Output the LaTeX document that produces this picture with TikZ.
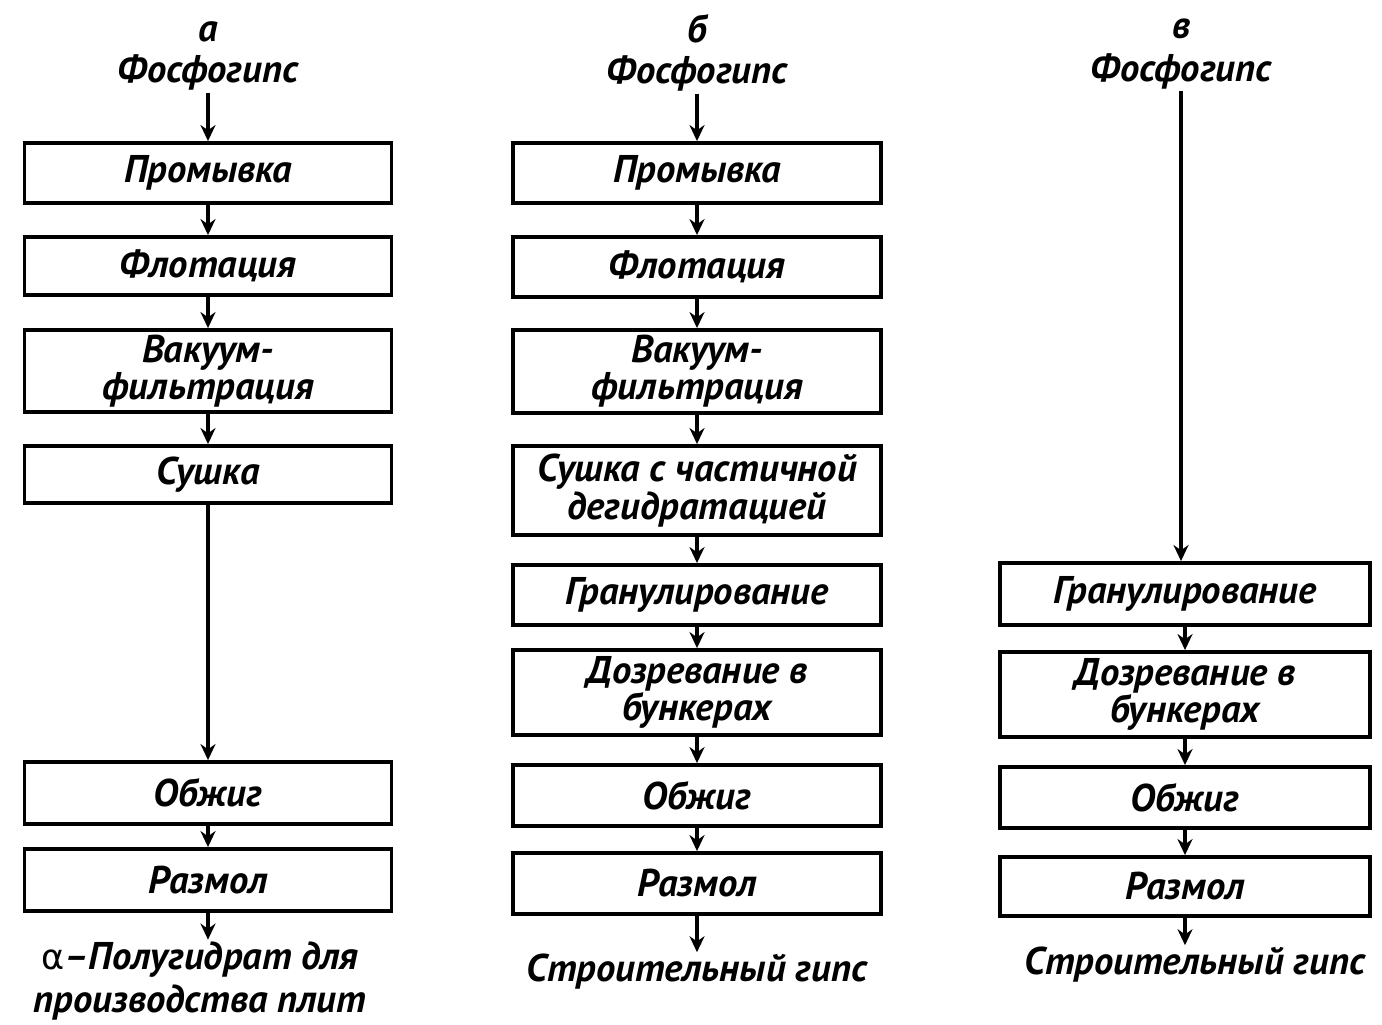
\documentclass[tikz,border=0pt]{standalone}
\usepackage{fontspec}
\setmainfont{PT Sans}
\newfontfamily\grk{DejaVu Sans}
\usetikzlibrary{arrows.meta}
\begin{document}
\begin{tikzpicture}[x=0.02cm,y=-0.02cm,
  box/.style={draw, line width=2.2pt, rectangle, inner sep=0pt, align=center,
    font=\fontsize{22}{18.5}\selectfont\bfseries\itshape},
  lbl/.style={inner sep=1pt, align=center, font=\fontsize{22}{18.5}\selectfont\bfseries\itshape},
  head/.style={inner sep=1pt, align=center, font=\fontsize{22}{23.5}\selectfont\bfseries\itshape},
  flow/.style={line width=2.2pt, -{Stealth[length=0.32cm,width=0.3cm]}}]
\useasboundingbox (0,0) rectangle (1382,1024);
% column a
\node[head] (fa) at (208,56) {а\\Фосфогипс};
\node[box, minimum width=7.34cm, minimum height=1.2cm] (Pa) at (208,173) {Промывка};
\node[box, minimum width=7.34cm, minimum height=1.16cm] (Fa) at (208,266) {Флотация};
\node[box, minimum width=7.34cm, minimum height=1.64cm] (Va) at (208,371) {Вакуум-\\фильтрация};
\node[box, minimum width=7.34cm, minimum height=1.14cm] (Sa) at (208,474.5) {Сушка};
\node[box, minimum width=7.34cm, minimum height=1.24cm] (Oa) at (208,793) {Обжиг};
\node[box, minimum width=7.34cm, minimum height=1.24cm] (Ra) at (208,880) {Размол};
\node[lbl, font=\fontsize{22}{24.5}\selectfont\bfseries\itshape] (outa) at (200,981) {{\grk\mdseries\upshape\fontsize{20}{20}\selectfont α}–Полугидрат для\\производства плит};
\draw[flow] (fa.south) -- (Pa.north);
\draw[flow] (Pa) -- (Fa);
\draw[flow] (Fa) -- (Va);
\draw[flow] (Va) -- (Sa);
\draw[flow] (Sa) -- (Oa);
\draw[flow] (Oa) -- (Ra);
\draw[flow] (Ra.south) -- (Ra.south |- outa.north);
% column b
\node[head] (fb) at (697,53) {б\\Фосфогипс};
\node[box, minimum width=7.36cm, minimum height=1.2cm] (Pb) at (697,173) {Промывка};
\node[box, minimum width=7.36cm, minimum height=1.2cm] (Fb) at (697,267) {Флотация};
\node[box, minimum width=7.36cm, minimum height=1.66cm] (Vb) at (697,371.5) {Вакуум-\\фильтрация};
\node[box, minimum width=7.36cm, minimum height=1.78cm] (Sb) at (697,490.5) {Сушка с частичной\\дегидратацией};
\node[box, minimum width=7.36cm, minimum height=1.2cm] (Gb) at (697,595) {Гранулирование};
\node[box, minimum width=7.36cm, minimum height=1.7cm] (Db) at (697,692.5) {Дозревание в\\бункерах};
\node[box, minimum width=7.36cm, minimum height=1.22cm] (Ob) at (697,795.5) {Обжиг};
\node[box, minimum width=7.36cm, minimum height=1.22cm] (Rb) at (697,883.5) {Размол};
\node[lbl] (outb) at (697,972) {Строительный гипс};
\draw[flow] (fb.south) -- (Pb.north);
\draw[flow] (Pb) -- (Fb);
\draw[flow] (Fb) -- (Vb);
\draw[flow] (Vb) -- (Sb);
\draw[flow] (Sb) -- (Gb);
\draw[flow] (Gb) -- (Db);
\draw[flow] (Db) -- (Ob);
\draw[flow] (Ob) -- (Rb);
\draw[flow] (Rb.south) -- (outb.north);
% column c
\node[lbl, font=\fontsize{22}{24}\selectfont\bfseries\itshape] (fc) at (1181,54) {в\\Фосфогипс};
\node[box, minimum width=7.4cm, minimum height=1.24cm] (Gc) at (1185,594) {Гранулирование};
\node[box, minimum width=7.4cm, minimum height=1.7cm] (Dc) at (1185,694.5) {Дозревание в\\бункерах};
\node[box, minimum width=7.4cm, minimum height=1.22cm] (Oc) at (1185,797.5) {Обжиг};
\node[box, minimum width=7.4cm, minimum height=1.18cm] (Rc) at (1185,886.5) {Размол};
\node[lbl] (outc) at (1195,965) {Строительный гипс};
\draw[flow] (fc.south) -- (fc.south |- Gc.north);
\draw[flow] (Gc) -- (Dc);
\draw[flow] (Dc) -- (Oc);
\draw[flow] (Oc) -- (Rc);
\draw[flow] (Rc.south) -- (Rc.south |- outc.north);
\end{tikzpicture}
\end{document}
